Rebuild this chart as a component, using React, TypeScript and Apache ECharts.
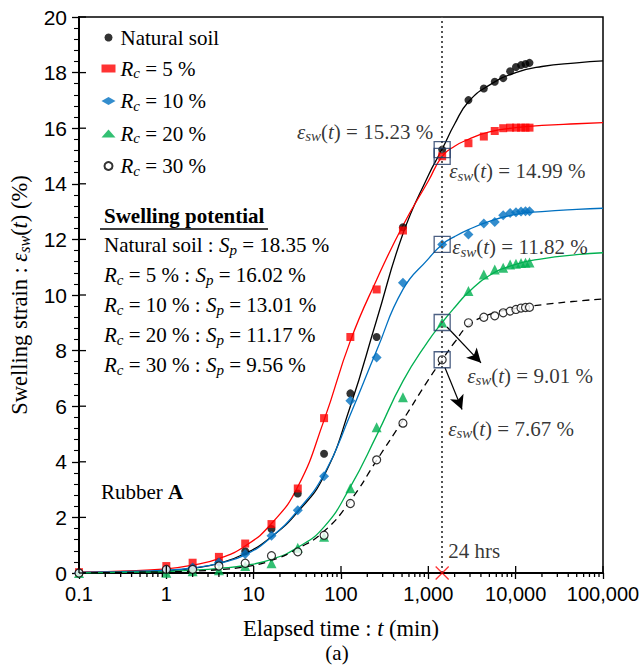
import React, { useEffect, useRef } from 'react';
import * as echarts from 'echarts';

// Measured swelling strain (%) at each elapsed time (min)
const measuredTimes = [0.1, 1, 2, 4, 8, 16, 32, 64, 128, 256, 512, 1440, 2880, 4320, 5760, 7200, 8640, 10080, 11520, 12960, 14400];
const naturalSoil = [0, 0.1, 0.2, 0.4, 0.78, 1.58, 2.86, 4.29, 6.46, 8.49, 12.44, 15.23, 17.01, 17.43, 17.67, 17.8, 18.05, 18.2, 18.27, 18.31, 18.35];
const rc5 = [0.03, 0.25, 0.37, 0.58, 1.06, 1.76, 3.04, 5.57, 8.49, 10.2, 12.32, 14.99, 15.46, 15.7, 15.9, 16.0, 16.02, 16.02, 16.02, 16.02, 16.02];
const rc10 = [0, 0.12, 0.2, 0.38, 0.68, 1.34, 2.26, 3.48, 6.2, 7.75, 10.44, 11.82, 12.18, 12.57, 12.63, 12.87, 12.95, 12.98, 13.0, 13.01, 13.01];
const rc20 = [0, 0.01, 0.06, 0.1, 0.25, 0.35, 0.91, 1.3, 3.05, 5.24, 6.32, 9.01, 10.14, 10.74, 10.92, 10.98, 11.1, 11.12, 11.15, 11.16, 11.17];
const rc30 = [0, 0.13, 0.13, 0.25, 0.35, 0.62, 0.76, 1.36, 2.5, 4.07, 5.39, 7.67, 9.0, 9.2, 9.25, 9.36, 9.42, 9.48, 9.53, 9.55, 9.56];

// Fitted swelling curves
const curveTimes = [0.1, 0.3, 1, 2, 4, 8, 16, 32, 64, 128, 256, 512, 1000, 1440, 2000, 2880, 5000, 10000, 20000, 50000, 100000];
const naturalFit = [0.02, 0.04, 0.08, 0.17, 0.35, 0.7, 1.3, 2.2, 3.5, 6.0, 9.1, 12.2, 14.3, 15.25, 16.15, 16.95, 17.55, 18.0, 18.22, 18.35, 18.42];
const rc5Fit = [0.03, 0.07, 0.15, 0.28, 0.52, 0.97, 1.78, 3.1, 5.5, 8.35, 10.55, 12.5, 14.1, 14.99, 15.35, 15.6, 15.87, 16.02, 16.1, 16.16, 16.2];
const rc10Fit = [0.02, 0.05, 0.1, 0.18, 0.35, 0.65, 1.3, 2.25, 3.55, 5.7, 8.0, 10.2, 11.3, 11.82, 12.1, 12.35, 12.65, 12.9, 13.0, 13.08, 13.12];
const rc20Fit = [0.0, 0.02, 0.05, 0.1, 0.17, 0.27, 0.49, 0.92, 1.66, 3.1, 4.95, 6.9, 8.35, 9.01, 9.55, 10.1, 10.7, 11.1, 11.3, 11.45, 11.52];
const rc30Fit = [0.0, 0.02, 0.04, 0.07, 0.12, 0.22, 0.45, 0.88, 1.5, 2.6, 4.05, 5.5, 6.95, 7.67, 8.3, 8.9, 9.3, 9.52, 9.65, 9.78, 9.86];

// 24-hour checkpoint and the strains read there
const checkpointTime = 1440;
const checkpointStrain = [15.23, 14.99, 11.82, 9.01, 7.67];

// Swelling potential of each mixture
const potentialNames = ['Natural soil', 'Rc = 5 %', 'Rc = 10 %', 'Rc = 20 %', 'Rc = 30 %'];
const potentialValues = [18.35, 16.02, 13.01, 11.17, 9.56];

// Arrow anchors (time, strain) for the two lower call-outs
const arrowRc20 = [[1637, 8.85], [4010, 7.56]];
const arrowRc30 = [[1552, 7.38], [2432, 5.88]];

// Axis ticks
const xDecades = [0.1, 1, 10, 100, 1000, 10000];
const xMajorTicks = [0.1, 1, 10, 100, 1000, 10000, 100000];
const xMinorSteps = [2, 3, 4, 5, 6, 7, 8, 9];
const yMajorTicks = [0, 2, 4, 6, 8, 10, 12, 14, 16, 18, 20];

const SERIF = '"Liberation Serif", "Times New Roman", serif';
const SANS = '"Liberation Sans", Arial, sans-serif';

const makeRich = (size: number, lh: number): any => ({
  n: { fontFamily: SERIF, fontSize: size, lineHeight: lh, color: '#000' },
  i: { fontFamily: SERIF, fontSize: size, lineHeight: lh, fontStyle: 'italic', color: '#000' },
  b: { fontFamily: SERIF, fontSize: size, lineHeight: lh, fontWeight: 'bold', color: '#000' },
  s: {
    fontFamily: SERIF,
    fontSize: Math.round(size * 0.7),
    lineHeight: Math.round(lh * 0.5),
    fontStyle: 'italic',
    verticalAlign: 'bottom',
    color: '#000',
  },
});
const rich = makeRich(21, 24);
const titleRich = makeRich(22.5, 26);
const serifText = { fontFamily: SERIF, fontSize: 21, color: '#000', rich };
const titleText = { fontFamily: SERIF, fontSize: 22.5, color: '#000', rich: titleRich };

const rcRich = (name: string) =>
  name === 'Natural soil' ? '{n|Natural soil}' : `{i|R}{s|c}{n|${name.slice(2)}}`;
const strainRich = (v: number) => `{i|ε}{s|sw}{n|(}{i|t}{n|) = ${v.toFixed(2)} %}`;

const COLORS = ['#000000', '#ff0000', '#0070c0', '#00b050', '#000000'];

export default function App() {
  const ref = useRef<HTMLDivElement>(null);

  useEffect(() => {
    if (!ref.current) return;
    const chart = echarts.init(ref.current, undefined, { renderer: 'svg' });

    const measured = [naturalSoil, rc5, rc10, rc20, rc30];
    const fits = [naturalFit, rc5Fit, rc10Fit, rc20Fit, rc30Fit];
    const symbols = ['circle', 'rect', 'diamond', 'triangle', 'circle'];
    const sizes = [8, 8, 10, 10, 8];

    const xMinorTicks: number[] = [];
    xDecades.forEach((d) => xMinorSteps.forEach((k) => xMinorTicks.push(d * k)));

    const curveSeries = fits.map((vals, k) => ({
      type: 'line',
      data: curveTimes.map((t, i) => [t, vals[i]]),
      showSymbol: false,
      smooth: 0.5,
      lineStyle: { color: COLORS[k], width: 1.3, type: k === 4 ? [7, 5] : 'solid' },
      silent: true,
      z: 2,
    }));

    const pointSeries = measured.map((vals, k) => ({
      name: potentialNames[k],
      type: 'scatter',
      data: measuredTimes.map((t, i) => [t, vals[i]]),
      symbol: symbols[k],
      symbolSize: sizes[k],
      clip: false,
      itemStyle:
        k === 4
          ? { color: '#fff', borderColor: '#000', borderWidth: 1.2 }
          : { color: COLORS[k] },
      z: 4,
    }));

    const labelSpecs = [
      { align: 'right', offset: [-9, -18] },
      { align: 'left', offset: [7, 15] },
      { align: 'left', offset: [10, 3] },
      { align: 'left', offset: [25, 53] },
      { align: 'left', offset: [6, 69] },
    ];

    const boxSeries = {
      type: 'scatter',
      symbol: 'rect',
      symbolSize: 16,
      clip: false,
      silent: true,
      z: 5,
      itemStyle: { color: 'transparent', borderColor: '#1f3864', borderWidth: 1.3 },
      data: checkpointStrain.map((v, k) => ({
        value: [checkpointTime, v],
        label: {
          show: true,
          position: 'inside',
          align: labelSpecs[k].align,
          verticalAlign: 'middle',
          offset: labelSpecs[k].offset,
          formatter: strainRich(v),
          ...serifText,
        },
      })),
      markLine: {
        silent: true,
        symbol: ['none', 'arrow'],
        symbolSize: [11, 14],
        label: { show: false },
        lineStyle: { color: '#000', width: 1.2, type: 'solid' },
        data: [
          [{ coord: arrowRc20[0] }, { coord: arrowRc20[1] }],
          [{ coord: arrowRc30[0] }, { coord: arrowRc30[1] }],
        ],
      },
    };

    const checkpointSeries = {
      type: 'scatter',
      data: [[checkpointTime, 0]],
      symbol: 'path://M0,0L10,10M10,0L0,10',
      symbolSize: 13,
      clip: false,
      silent: true,
      z: 6,
      itemStyle: { color: 'transparent', borderColor: '#ff0000', borderWidth: 1.3 },
      label: {
        show: true,
        position: 'inside',
        align: 'left',
        verticalAlign: 'middle',
        offset: [6, -22],
        formatter: '{n|24 hrs}',
        ...serifText,
      },
      markLine: {
        silent: true,
        symbol: 'none',
        label: { show: false },
        lineStyle: { color: '#555', width: 2, type: [2, 3] },
        data: [{ xAxis: checkpointTime }],
      },
    };

    const tickLine = (x1: number, y1: number, x2: number, y2: number) => ({
      type: 'line',
      shape: { x1, y1, x2, y2 },
      style: { stroke: '#000', lineWidth: 1.3 },
    });

    const xMinorTickSeries = {
      type: 'custom',
      silent: true,
      clip: false,
      z: 10,
      data: xMinorTicks.map((t) => [t, 0]),
      renderItem: (_p: any, api: any) => {
        const p = api.coord([api.value(0), 0]);
        return tickLine(p[0], p[1], p[0], p[1] + 4);
      },
    };
    const xInnerTickSeries = {
      type: 'custom',
      silent: true,
      clip: false,
      z: 10,
      data: xMajorTicks.map((t) => [t, 0]),
      renderItem: (_p: any, api: any) => {
        const p = api.coord([api.value(0), 0]);
        return tickLine(p[0], p[1], p[0], p[1] - 7);
      },
    };
    const yInnerTickSeries = {
      type: 'custom',
      silent: true,
      clip: false,
      z: 10,
      data: yMajorTicks.map((v) => [0.1, v]),
      renderItem: (_p: any, api: any) => {
        const p = api.coord([0.1, api.value(1)]);
        return tickLine(p[0], p[1], p[0] + 7, p[1]);
      },
    };

    const potentialRows = potentialNames.map((name, k) => ({
      type: 'text',
      x: 104,
      y: 245 + 30 * k,
      style: {
        text: `${rcRich(name)}{n| : }{i|S}{s|p}{n| = ${potentialValues[k].toFixed(2)} %}`,
        rich,
        textVerticalAlign: 'middle',
      },
    }));

    chart.setOption({
      animation: false,
      backgroundColor: '#fff',
      grid: {
        left: 79,
        right: 41,
        top: 17,
        bottom: 93,
        show: true,
        borderColor: '#000',
        borderWidth: 1.5,
        backgroundColor: 'transparent',
      },
      legend: {
        data: potentialNames,
        orient: 'vertical',
        left: 96.5,
        top: 22,
        itemWidth: 14,
        itemHeight: 8,
        itemGap: 10,
        formatter: (name: string) => rcRich(name),
        textStyle: serifText,
        selectedMode: false,
      },
      xAxis: {
        type: 'log',
        logBase: 10,
        min: 0.1,
        max: 100000,
        name: '{n|Elapsed time : }{i|t}{n| (min)}',
        nameLocation: 'middle',
        nameGap: 42,
        nameTextStyle: titleText,
        axisLine: { onZero: false, lineStyle: { color: '#000', width: 2 } },
        axisTick: { show: true, length: 6, lineStyle: { color: '#000', width: 1.3 } },
        minorTick: { show: false },
        splitLine: { show: false },
        axisLabel: {
          margin: 11,
          color: '#000',
          fontFamily: SANS,
          fontSize: 20,
          formatter: (v: number) => (v < 1 ? '0.1' : Math.round(v).toLocaleString('en-US')),
        },
      },
      yAxis: {
        type: 'value',
        min: 0,
        max: 20,
        interval: 2,
        name: '{n|Swelling strain : }{i|ε}{s|sw}{n|(}{i|t}{n|) (%)}',
        nameLocation: 'middle',
        nameRotate: 90,
        nameGap: 45,
        nameTextStyle: titleText,
        axisLine: { show: true, lineStyle: { color: '#000', width: 2 } },
        axisTick: { show: true, length: 7, lineStyle: { color: '#000', width: 1.3 } },
        minorTick: { show: true, splitNumber: 5, length: 5, lineStyle: { color: '#000', width: 1.1 } },
        splitLine: { show: false },
        axisLabel: { margin: 12, color: '#000', fontFamily: SANS, fontSize: 21 },
      },
      graphic: [
        {
          type: 'text',
          x: 104,
          y: 216,
          style: {
            text: 'Swelling potential',
            font: `bold 21px ${SERIF}`,
            fill: '#000',
            textVerticalAlign: 'middle',
          },
        },
        {
          type: 'line',
          shape: { x1: 100, y1: 229, x2: 268, y2: 229 },
          style: { stroke: '#000', lineWidth: 1.5 },
        },
        ...potentialRows,
        {
          type: 'text',
          x: 101,
          y: 492,
          style: { text: '{n|Rubber }{b|A}', rich, textVerticalAlign: 'middle' },
        },
        {
          type: 'text',
          x: 337,
          y: 653,
          style: {
            text: '(a)',
            font: `21px ${SERIF}`,
            fill: '#000',
            textAlign: 'center',
            textVerticalAlign: 'middle',
          },
        },
      ],
      series: [
        ...curveSeries,
        ...pointSeries,
        boxSeries,
        checkpointSeries,
        xMinorTickSeries,
        xInnerTickSeries,
        yInnerTickSeries,
      ],
    });

    return () => chart.dispose();
  }, []);

  return (
    <div
      ref={ref}
      style={{ position: 'absolute', left: 0, top: 0, width: 644, height: 666 }}
    />
  );
}
